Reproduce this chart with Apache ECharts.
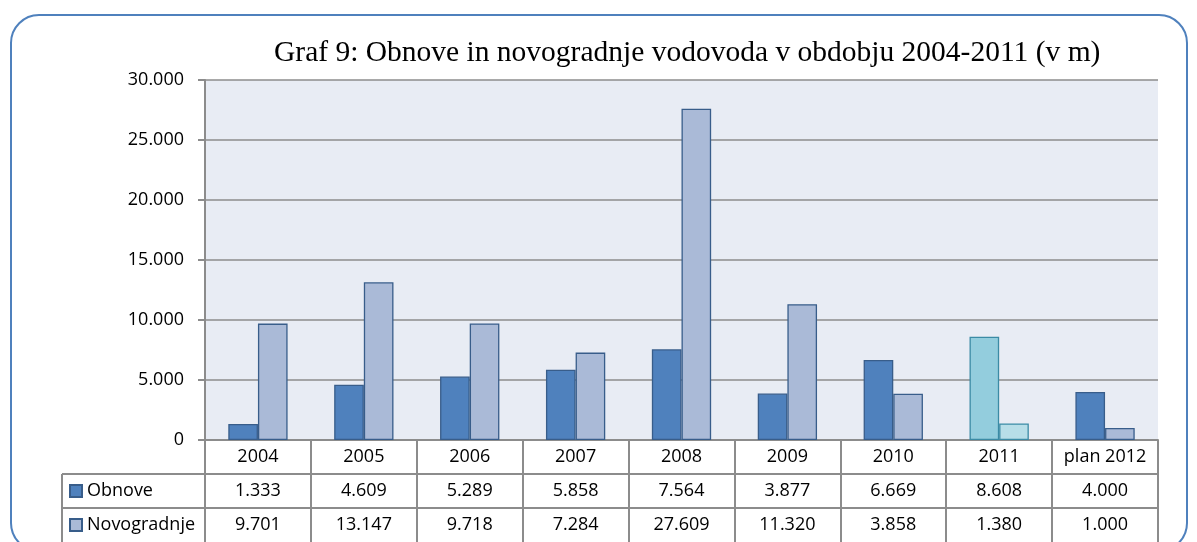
<!DOCTYPE html>
<html>
<head>
<meta charset="utf-8">
<script src="https://cdn.jsdelivr.net/npm/echarts@6/dist/echarts.min.js"></script>
<style>
html,body{margin:0;padding:0;background:#fff;}
#c{width:1197px;height:542px;}
</style>
</head>
<body>
<div id="c"></div>
<script>
const categories = ['2004','2005','2006','2007','2008','2009','2010','2011','plan 2012'];
const obnove = [1333,4609,5289,5858,7564,3877,6669,8608,4000];
const novogradnje = [9701,13147,9718,7284,27609,11320,3858,1380,1000];
const seriesNames = ['Obnove','Novogradnje'];
const titleText = 'Graf 9: Obnove in novogradnje vodovoda v obdobju 2004-2011 (v m)';
const highlightCategory = '2011';

function fmt(v){ return String(v).replace(/\B(?=(\d{3})+(?!\d))/g,'.'); }

const FONT = 'Open Sans';
const GRAY = '#8c8c8c';
const ROW = 34;

const styles = {
  obnove: {color:'#4f81bd', borderColor:'#385d8a'},
  novo: {color:'#aabad7', borderColor:'#385d8a'},
  obnoveHi: {color:'#93cddd', borderColor:'#3b8ba5'},
  novoHi: {color:'#b7dee8', borderColor:'#3b8ba5'}
};

function build(values, base, hi){
  return values.map((v,i)=>({
    value:v,
    itemStyle: categories[i]===highlightCategory ? Object.assign({borderWidth:1.3},hi) : Object.assign({borderWidth:1.3},base)
  }));
}

const chart = echarts.init(document.getElementById('c'), null, {renderer:'canvas'});

const labelCommon = {fontFamily:FONT, fontSize:18, color:'#000', verticalAlign:'middle', margin:ROW/2, interval:0};

chart.setOption({
  animation:false,
  backgroundColor:'#fff',
  title:{
    text:titleText, left:269, top:33,
    textStyle:{fontFamily:'Liberation Serif', fontSize:29.5, fontWeight:'normal', color:'#000'}
  },
  legend:{
    orient:'vertical', left:69, top:481, padding:0,
    itemWidth:12, itemHeight:12, itemGap:ROW-20,
    icon:'rect',
    selectedMode:false,
    textStyle:{fontFamily:FONT, fontSize:18, color:'#000', lineHeight:20},
    data:seriesNames
  },
  grid:{
    left:205, right:39, top:80, bottom:102,
    show:true, backgroundColor:'#e8ecf4', borderWidth:0
  },
  xAxis:[
    {type:'category', data:categories, position:'bottom',
     axisLine:{lineStyle:{color:GRAY, width:2}},
     axisTick:{show:true, length:ROW*3, interval:0, lineStyle:{color:GRAY, width:2}},
     axisLabel:labelCommon},
    {type:'category', data:obnove.map(fmt), position:'bottom', offset:ROW,
     axisLine:{lineStyle:{color:GRAY, width:2}},
     axisTick:{show:false},
     axisLabel:labelCommon},
    {type:'category', data:novogradnje.map(fmt), position:'bottom', offset:ROW*2,
     axisLine:{lineStyle:{color:GRAY, width:2}},
     axisTick:{show:false},
     axisLabel:labelCommon}
  ],
  yAxis:{
    type:'value', min:0, max:30000, interval:5000,
    axisLine:{show:true, lineStyle:{color:GRAY, width:2}},
    axisTick:{show:true, length:7, lineStyle:{color:GRAY, width:2}},
    splitLine:{lineStyle:{color:GRAY, width:1.5}},
    axisLabel:{fontFamily:FONT, fontSize:18, color:'#000', margin:21, formatter:fmt}
  },
  series:[
    {name:seriesNames[0], type:'bar', xAxisIndex:0, barWidth:'28%', barGap:'0%',
     itemStyle:Object.assign({borderWidth:1.3},styles.obnove),
     data:build(obnove, styles.obnove, styles.obnoveHi)},
    {name:seriesNames[1], type:'bar', xAxisIndex:0, barWidth:'28%', barGap:'0%',
     itemStyle:Object.assign({borderWidth:1.3},styles.novo),
     data:build(novogradnje, styles.novo, styles.novoHi)}
  ],
  graphic:[
    {type:'rect', shape:{x:11, y:15, width:1176, height:536, r:28}, silent:true, z:-10,
     style:{fill:'none', stroke:'#4f81bd', lineWidth:2}},
    {type:'line', shape:{x1:62, y1:440+ROW, x2:205, y2:440+ROW}, style:{stroke:GRAY, lineWidth:2}},
    {type:'line', shape:{x1:62, y1:440+ROW*2, x2:205, y2:440+ROW*2}, style:{stroke:GRAY, lineWidth:2}},
    {type:'line', shape:{x1:62, y1:440+ROW, x2:62, y2:542}, style:{stroke:GRAY, lineWidth:2}}
  ]
});
</script>
</body>
</html>
